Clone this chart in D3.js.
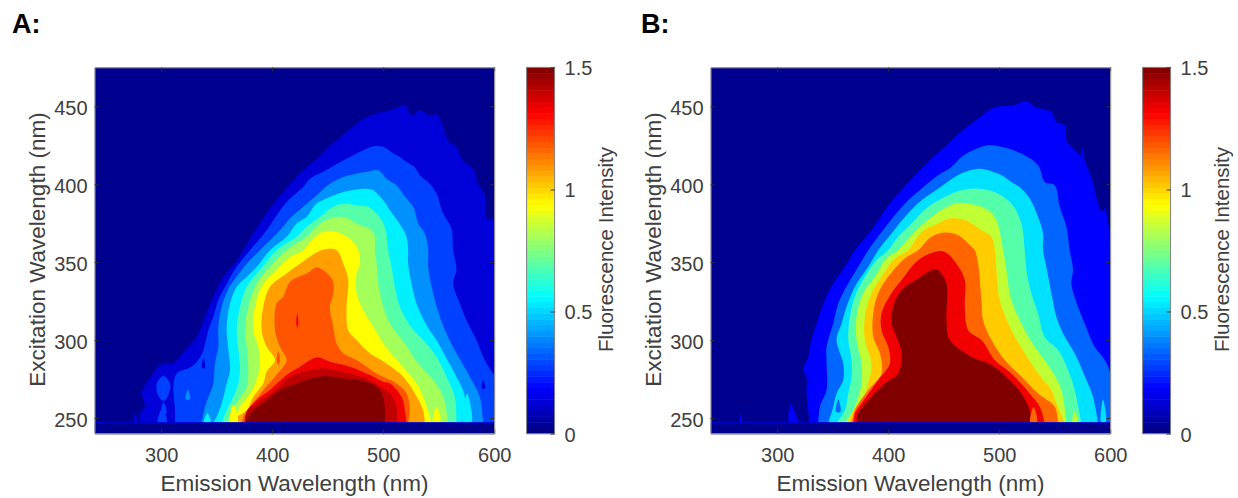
<!DOCTYPE html>
<html><head><meta charset="utf-8">
<script src="https://cdn.jsdelivr.net/npm/d3@7"></script>
<style>html,body{margin:0;padding:0;background:#fff}svg{display:block}text{font-family:"Liberation Sans",Arial,sans-serif}</style>
</head><body><svg id="c" width="1238" height="498"></svg>
<script>
// Contour boundaries [emission nm, excitation nm]
const A_L1=[[274.4,247],[277,253],[279.5,247.6],[282.5,255],[285.5,257],[282.5,266],[285.5,271],[291.5,277.6],[299,284],[311,285.5],[323,294.7],[332,302],[339.5,315],[347,328],[356,340.6],[368,351],[374,358],[386,372],[398,384.4],[410,395],[422,405],[431,411],[440,416],[449,423],[459.5,429],[467,433.5],[476,439],[485,443],[497,446],[510.5,448.5],[519.5,451],[525.5,444],[533,447.5],[542,444],[548,445],[554,437],[558.5,428],[566,424],[572,415],[581,410],[585.5,400],[591.5,393],[593,379],[599,377],[600,377],[600,247]];
const A_L2=[[312.5,247],[312.5,255],[311,270],[314,278.6],[327.5,283],[336.5,291],[342.5,306.4],[347,315],[351.5,325.6],[359,336],[368,347],[380,357.7],[395,370.5],[407,383],[416,390.8],[428,398.3],[434,403.6],[446,408],[458,413],[470,417.5],[482,421.8],[491,424.4],[500,424],[509,419.7],[515,417.5],[521,414.3],[528.5,411],[533,405.8],[542,400.4],[548,394],[554,381.2],[561.5,371.6],[563,357.7],[566,345],[563,336.3],[569,323.5],[575,312.8],[584,300],[591.5,287],[599,278.6],[600,278],[600,247]];
const A_L3=[[336.5,247],[339.5,257.3],[344,266],[347,272.2],[348.5,285],[351.5,295.7],[351.5,308.5],[354.5,321.4],[360.5,333],[368,340.6],[377,349],[389,357.7],[407,370.5],[416,378],[428,385.5],[440,393],[452,400.4],[464,404.7],[476,406.8],[485,408],[495.5,409],[503,403.6],[512,399.4],[519.5,392],[527,385.5],[531.5,374.8],[537.5,368.4],[540.5,357.7],[540.5,347],[545,330],[551,315],[558.5,302],[566,291.5],[578,276.5],[587,263.7],[590,247]];
const A_L4=[[347,247],[350,250.9],[354.5,259.4],[359,272.2],[362,280.8],[360.5,293.6],[359,308.5],[362,323.5],[368,334.2],[377,340.6],[386,347],[398,357.7],[413,366.3],[422,374.8],[431,379],[440,387.6],[452,391.9],[464,395],[476,396.6],[489.5,396.6],[500,389.7],[506,383.3],[516.5,372.7],[521,366.2],[522.5,357.7],[522.5,349],[525.5,336.3],[530,323.5],[539,309.6],[548,300],[557,288.2],[566,276.5],[573.5,263.7],[570.5,247]];
const A_L5=[[354.5,247],[359,255],[365,263.7],[369.5,272.2],[371,283],[369.5,293.6],[368,306.4],[371,321.4],[377,334.2],[389,345],[404,357.7],[422,366.3],[431,372.7],[443,379],[455,385.5],[464,387.6],[476,386.5],[486.5,385.5],[494,381.2],[501.5,372.7],[504.5,357.7],[507.5,347],[510.5,334],[515,321.4],[524,309.6],[536,300],[548,289.3],[557,276.5],[564.5,263.7],[566,247]];
const A_L6=[[359,247],[365,255],[369.5,261.5],[377,270],[378.5,283],[377,295.7],[375.5,306.4],[378.5,321.4],[386,336.3],[398,347],[413,357.7],[431,366.3],[440,372.7],[452,378],[464,379],[476,374.8],[491,369.4],[492.5,357.7],[494,349],[495.5,336.3],[500,321.4],[506,310.7],[519.5,297.9],[531.5,285],[545,274.4],[554,263.7],[558.5,247]];
const A_L7=[[364,247],[366,252],[369,254],[371,257.3],[380,265.8],[386,274.4],[389,285],[387.5,295.7],[383,306.4],[384.5,321.4],[392,336.3],[404,344.9],[416,353.4],[428,357.7],[434,363],[446,369.4],[458,369.4],[470,365],[477.5,357.7],[479,349],[476,342.7],[476,330],[483.5,317],[491,308.5],[500,297.9],[515,285],[530,272.2],[536,263.7],[542,250.9],[543.5,247]];
const A_L8=[[360,247],[368,250.9],[377,255],[383,263.7],[392,272.2],[395,279.7],[402.5,287.2],[395,295.7],[390.5,306.4],[392,321.4],[398,334.2],[413,342.7],[425,349],[444.5,357.7],[458,357.7],[464,349],[468.5,338.5],[467,321.4],[468.5,306.4],[476,300],[488,291.5],[503,285],[518,276.5],[528.5,265.8],[536,255],[537.5,247]];
const A_L9=[[372.5,247],[375.5,253],[380,257.3],[392,268],[402.5,276.5],[410,282.9],[413,287.2],[407,295.7],[402.5,306.4],[404,323.5],[410,327.8],[416,337.4],[431,342.7],[440,346.6],[446,344.9],[454.4,338.5],[455,329.9],[452,321.4],[455,308.5],[458,297.9],[464,291.5],[476,287.2],[494,278.6],[512,272.2],[521,265.8],[524,255],[522.5,247]];
const A_L10=[[375,247],[377,254],[386,261.5],[398,268],[413,277.6],[425,282.9],[440,288.9],[452,286.1],[470,282.9],[488,277.6],[500,273.3],[506,272.2],[516.5,263.7],[519.5,255],[521,247]];
const A_L11=[[375.5,247],[377.6,255],[386,259.4],[401,266.9],[416,276.5],[428,279.7],[446,281.8],[464,279.7],[485,275.4],[497,270],[506,265.8],[512,257.3],[512,247]];
const A_L12=[[375.5,247],[380,253],[392,259.4],[407,268],[422,272.2],[446,276.9],[464,275.4],[485,273.3],[497,268],[501.5,257.3],[501.5,247]];
const A_levels=[A_L1,A_L2,A_L3,A_L4,A_L5,A_L6,A_L7,A_L8,A_L9,A_L10,A_L11,A_L12];
const A_colors=["#0000d8","#0040ff","#0090ff","#00f0ff","#55ffaa","#a5ff5a","#ffff00","#ffa000","#ff5500","#f00000","#c00000","#800000"];
// Small isolated islands: [level index, boundary]
const A_spots=[
 [9,[[421.6,311],[422.6,317],[423.6,311],[422.6,308]]],
 [8,[[404,287],[405.5,293],[407,287],[405.5,284]]],
 [0,[[337,282],[338,289],[339.5,282]]],
 [1,[[297,265],[296,272],[302,277],[308,272],[306,264],[302,261]]],
 [1,[[300,254],[302,260],[305,254],[302,251]]],
 [1,[[297,247],[301,256],[305,247]]],
 [3,[[338.6,247],[341.6,253],[344.6,247]]],
 [2,[[322,262],[324,268],[326,262]]],
 [0,[[589,269],[590,274],[592,269]]],
 [6,[[362,247],[365,259],[369,247]]],
 [6,[[545,247],[548,257.3],[551.6,247]]],
 [3,[[572,247],[575.6,265.8],[579.5,247]]]
];

const B_L1=[[329.5,247],[326.5,265.8],[326.5,276.5],[323.5,280.8],[328,289.3],[331,300],[335.5,310.7],[343,325.6],[350.5,336.3],[361,347],[370,357.7],[385,370.5],[397,383.3],[409,394],[427,407.9],[439,416.5],[451,423.9],[460,430.3],[469,435.7],[481,442.1],[493,448.5],[502,450],[512.5,450.6],[524.5,453.2],[532,449.6],[547,446.4],[551.5,440],[559,437.8],[560.5,428.2],[568,421.8],[573.4,418.6],[574.6,424],[577,415.4],[583,404.7],[589,387.6],[592,382.3],[595,384.4],[598,374.8],[600,368],[600,247]];
const B_L2=[[337,247],[338.5,257.3],[344.5,268],[344.5,285],[344.5,295.7],[350.5,310.7],[355,323.5],[364,336.3],[373,347],[382,357.7],[394,369.4],[406,380.1],[418,389.7],[430,397.2],[445,405.8],[457,411.1],[466,417.5],[475,421.4],[490,425],[505,423.5],[520,419.7],[535,412.2],[541,401.5],[550,399.4],[554.5,385.5],[560.5,372.7],[563.5,357.7],[566.5,344.9],[565,336.3],[571,321.4],[577,310.7],[586,295.7],[595,287.2],[600,278.6],[600,247]];
const B_L3=[[346,247],[350.5,257.3],[353.5,265.8],[359.5,274.4],[359.5,285],[353.5,300],[358,310.7],[362.5,321.4],[370,334.2],[382,347],[391,357.7],[403,368.4],[415,379],[430,389.7],[445,397.2],[460,404.7],[469,407.9],[482.5,410],[490,409],[502,405.8],[511,401.5],[520,397.2],[527.5,390.8],[535,379],[539.5,368.4],[539.5,357.7],[542.5,347],[547,330],[551.5,315],[557.5,304.3],[568,291.5],[578.5,274.4],[584.5,263.7],[589,247]];
const B_L4=[[353.5,247],[361,255],[364,265.8],[367,276.5],[367,287.2],[364,300],[365.5,315],[370,327.8],[379,340.6],[389.5,351.3],[400,357.7],[409,366.3],[421,374.8],[436,385.5],[451,391.9],[466,396.2],[481,397.2],[496,395],[511,387.6],[520,374.8],[523,357.7],[524.5,344.9],[529,330],[535,317],[541,302],[553,293.6],[562,280.8],[568,268],[574,247]];
const B_L5=[[361,247],[368.5,255],[373,263.7],[376,272.2],[376,285],[371.5,300],[371.5,315],[377.5,330],[388,340.6],[398.5,352.4],[409,357.7],[421,367.3],[439,379],[460,387.6],[472,387.6],[490,383.3],[497.5,376.9],[503.5,357.7],[506.5,344.9],[511,325.6],[523,306.4],[532,295.7],[547,280.8],[556,268],[560.5,247]];
const B_L6=[[364,247],[368.5,255],[377.5,263.7],[383.5,276.5],[385,285],[379,300],[379,315],[385,330],[394,340.6],[406,352.4],[418,357.7],[430,369.4],[445,374.8],[455.5,378],[469,377],[484,370.5],[493,366.2],[496,357.7],[497.5,344.9],[500.5,325.6],[511,306.4],[523,291.5],[535,278.6],[547,268],[551.5,259.4],[559,247]];
const B_L7=[[367,247],[370,255],[382,267.9],[394,278.6],[392.5,291.5],[386.5,302.1],[386.5,317.1],[391,330],[400,340.6],[415,352.4],[427,357.7],[439,366.3],[451,369],[463,367.3],[475,360],[478,357.7],[481,349],[484,325.6],[485.5,312.8],[493,300],[505,287.2],[520,276.5],[535,265.8],[550,257.3],[553,247]];
const B_L8=[[369,247],[370,253],[376,259.4],[391,274.4],[401.5,285],[400,295.7],[394,306.4],[394,317.1],[403,330],[412,338.5],[427,351.3],[442,356.6],[451,356.6],[461.5,349],[469,338.5],[469,321.4],[472,306.4],[484,300],[496,287.2],[511,278.6],[527.5,265.8],[536.5,257.3],[541,247]];
const B_L9=[[371.5,247],[373,253],[385,263.7],[397,272.2],[409,278.6],[412,291.5],[407.5,302.1],[403,310.7],[404.5,321.4],[412,332],[427,339.5],[440.5,345.3],[445,344.9],[452.5,336.3],[452.5,312.8],[455.5,300],[475,289.3],[493,284],[508,275.4],[520,265.8],[527.5,255],[529,247]];
const B_levels=[B_L1,B_L2,B_L3,B_L4,B_L5,B_L6,B_L7,B_L8,B_L9];
const B_colors=["#0000ff","#0066ff","#00e0ff","#55ffaa","#c0ff33","#ffcc00","#ff6600","#f00000","#800000"];
const B_spots=[
 [0,[[311,247],[312,259],[315,255],[318,247]]],
 [0,[[266.5,249],[267.4,253],[268.5,249],[267.4,246.5]]],
 [0,[[330,247],[331.6,254],[333,247]]],
 [1,[[353,254],[355,262],[357,254]]],
 [2,[[592,247],[593.5,262],[596,247]]],
 [4,[[566,247],[568,254],[571,247]]],
 [6,[[528,247],[531,257],[534,247]]]
];

const emissionTicks=[300,400,500,600];
const excitationTicks=[250,300,350,400,450];
const intensityTicks=[0,0.5,1,1.5];
const emissionDomain=[240,600];
const excitationDomain=[240,475];
const intensityDomain=[0,1.5];
const floorExcitation=247;
const panelTitles=["A:","B:"];

const TEXT="#404040",FRAME="#808080",NAVY="#00008f";
function jet(t){const c=v=>Math.round(255*Math.max(0,Math.min(1,v)));
  return d3.rgb(c(1.5-Math.abs(4*t-3)),c(1.5-Math.abs(4*t-2)),c(1.5-Math.abs(4*t-1))).formatHex();}

const svg=d3.select("#c");
function panel(i,left,levels,colors,spots,title,titleX){
  const w=399.6,top=67.4,bottom=433.6,g=svg.append("g");
  const x=d3.scaleLinear(emissionDomain,[left,left+w]);
  const y=d3.scaleLinear(excitationDomain,[bottom,top]);
  const id="clip"+i;
  g.append("clipPath").attr("id",id).append("rect").attr("x",left).attr("y",top).attr("width",w).attr("height",bottom-top);
  const plot=g.append("g").attr("clip-path",`url(#${id})`);
  plot.append("rect").attr("x",left).attr("y",top).attr("width",w).attr("height",bottom-top).attr("fill",NAVY);
  const line=d3.line().x(d=>x(d[0])).y(d=>y(d[1])).curve(d3.curveCatmullRom.alpha(0.5));
  const closed=d3.line().x(d=>x(d[0])).y(d=>y(d[1])).curve(d3.curveCatmullRomClosed.alpha(0.5));
  plot.selectAll("path.lv").data(levels).join("path").attr("class","lv")
    .attr("d",d=>line(d)+"Z").attr("fill",(d,k)=>colors[k]);
  plot.selectAll("path.sp").data(spots).join("path").attr("class","sp")
    .attr("d",d=>closed(d[1])).attr("fill",d=>colors[d[0]]);
  plot.append("rect").attr("x",left).attr("y",y(floorExcitation)).attr("width",w).attr("height",bottom-y(floorExcitation)).attr("fill",NAVY);
  plot.append("rect").attr("x",left).attr("y",y(floorExcitation)-0.5).attr("width",w).attr("height",1.2).attr("fill","#0000d0");

  const style=(a)=>{a.selectAll("path").attr("stroke",FRAME);a.selectAll("line").attr("stroke","#303030");a.selectAll("text").attr("fill",TEXT).attr("font-size",20);};
  g.append("g").attr("transform",`translate(0,${bottom})`).call(d3.axisBottom(x).tickValues(emissionTicks).tickFormat(d3.format("d")).tickSizeInner(-4).tickSizeOuter(0).tickPadding(14)).call(style);
  g.append("g").attr("transform",`translate(0,${top})`).call(d3.axisTop(x).tickValues(emissionTicks).tickFormat("").tickSizeInner(-4).tickSizeOuter(0)).call(style);
  g.append("g").attr("transform",`translate(${left},0)`).call(d3.axisLeft(y).tickValues(excitationTicks).tickFormat(d3.format("d")).tickSizeInner(-4).tickSizeOuter(0).tickPadding(7)).call(style).selectAll("text").attr("dy","0.4em");
  g.append("g").attr("transform",`translate(${left+w},0)`).call(d3.axisRight(y).tickValues(excitationTicks).tickFormat("").tickSizeInner(-4).tickSizeOuter(0)).call(style);
  g.selectAll(".domain").attr("fill","none");

  g.append("text").attr("x",left+w/2).attr("y",491).attr("text-anchor","middle").attr("font-size",22.5).attr("fill",TEXT).text("Emission Wavelength (nm)");
  g.append("text").attr("transform",`translate(${left-50},${(top+bottom)/2-1}) rotate(-90)`).attr("text-anchor","middle").attr("font-size",22.5).attr("fill",TEXT).text("Excitation Wavelength (nm)");
  g.append("text").attr("x",titleX).attr("y",33).attr("font-size",27).attr("font-weight","bold").attr("fill","#000").text(title);

  // colorbar
  const cx=left+432,cw=28;
  const cy=d3.scaleLinear(intensityDomain,[bottom,top]);
  const n=64;
  g.selectAll("rect.cb").data(d3.range(n)).join("rect").attr("class","cb")
    .attr("x",cx).attr("width",cw)
    .attr("y",k=>cy((k+1)/n*intensityDomain[1])).attr("height",k=>cy(k/n*intensityDomain[1])-cy((k+1)/n*intensityDomain[1])+0.5)
    .attr("fill",k=>jet((k+0.5)/n));
  g.append("rect").attr("x",cx).attr("y",top).attr("width",cw).attr("height",bottom-top).attr("fill","none").attr("stroke",FRAME);
  g.append("g").attr("transform",`translate(${cx+cw},0)`).call(d3.axisRight(cy).tickValues(intensityTicks).tickFormat(d3.format("")).tickSizeInner(-4).tickSizeOuter(0).tickPadding(10)).call(style).call(a=>a.select(".domain").remove()).selectAll("text").attr("dy","0.37em");
  g.append("text").attr("transform",`translate(${cx+86},${(top+bottom)/2-1}) rotate(-90)`).attr("text-anchor","middle").attr("font-size",20.5).attr("fill",TEXT).text("Fluorescence Intensity");
}
panel(0,94.6,A_levels,A_colors,A_spots,panelTitles[0],12);
panel(1,710.6,B_levels,B_colors,B_spots,panelTitles[1],641);
</script></body></html>
